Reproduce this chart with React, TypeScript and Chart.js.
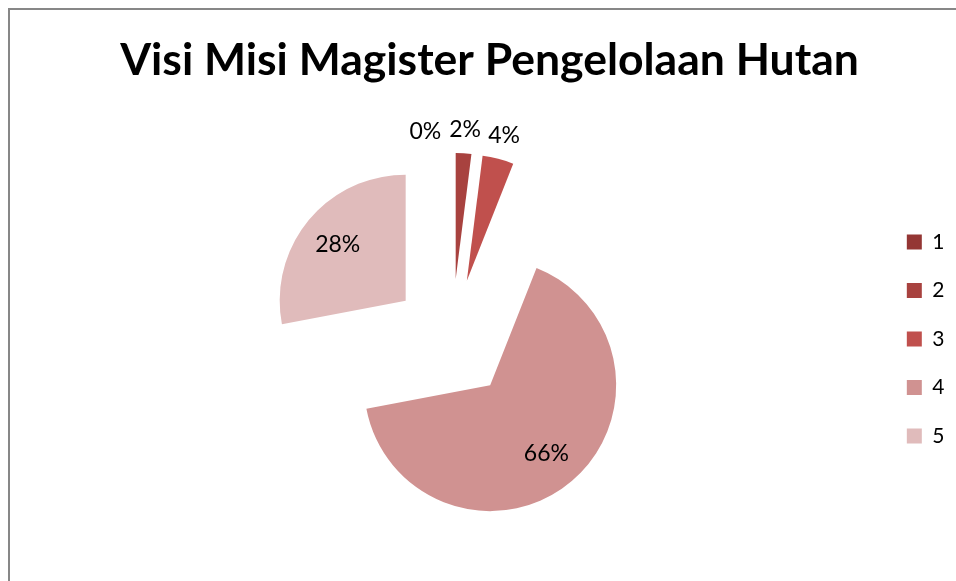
import React, { useEffect, useRef } from 'react';
import { Chart, registerables, ArcElement, PieController } from 'chart.js';

const categories = ['1', '2', '3', '4', '5'];
const values = [0, 2, 4, 66, 28];
const sliceColors = ['#943634', '#a8423f', '#c0504d', '#d09291', '#e0bbbb'];
const explodeOffsets = [60, 60, 60, 60, 60];
const titleText = 'Visi Misi Magister Pengelolaan Hutan';

class ExplodedArc extends ArcElement {
  static id = 'explodedArc';
  draw(ctx: CanvasRenderingContext2D) {
    const self = this as any;
    const { x, y, startAngle, endAngle, outerRadius } = self;
    const opts = self.options;
    if (!(endAngle - startAngle > 0)) return;
    const mid = (startAngle + endAngle) / 2;
    const off = opts.offset || 0;
    ctx.save();
    ctx.translate(Math.cos(mid) * off, Math.sin(mid) * off);
    ctx.beginPath();
    ctx.moveTo(x, y);
    ctx.arc(x, y, outerRadius, startAngle, endAngle);
    ctx.closePath();
    ctx.fillStyle = opts.backgroundColor;
    ctx.fill();
    ctx.restore();
  }
}

class ExplodedPieController extends PieController {
  static id = 'explodedPie';
  static defaults = { dataElementType: 'explodedArc' };
}

Chart.register(...registerables, ExplodedArc, ExplodedPieController);

const labelPlugin = {
  id: 'sliceLabels',
  afterDatasetsDraw(chart: any) {
    const meta = chart.getDatasetMeta(0);
    const ctx = chart.ctx as CanvasRenderingContext2D;
    const total = values.reduce((a, b) => a + b, 0);
    ctx.save();
    ctx.font = '23px Lato';
    ctx.fillStyle = '#000000';
    ctx.textAlign = 'center';
    ctx.textBaseline = 'middle';
    const items = meta.data.map((el: any, i: number) => {
      const { x, y, startAngle, endAngle, outerRadius } = el.getProps(
        ['x', 'y', 'startAngle', 'endAngle', 'outerRadius'],
        true
      );
      const off = el.options.offset || 0;
      const mid = (startAngle + endAngle) / 2;
      const vx = x + Math.cos(mid) * off;
      const vy = y + Math.sin(mid) * off;
      const pct = Math.round((values[i] / total) * 100);
      const text = pct + '%';
      const inside = pct >= 10;
      const dist = inside ? outerRadius * 0.7 : outerRadius + 24;
      return {
        text,
        x: vx + Math.cos(mid) * dist,
        y: vy + Math.sin(mid) * dist,
        w: ctx.measureText(text).width,
      };
    });
    for (let i = items.length - 2; i >= 0; i--) {
      const a = items[i];
      const b = items[i + 1];
      if (Math.abs(a.y - b.y) < 20 && a.x + a.w / 2 + 5 > b.x - b.w / 2) {
        a.x = b.x - b.w / 2 - 8 - a.w / 2;
        a.y += 3;
      }
    }
    items.forEach((it: any) => ctx.fillText(it.text, it.x, it.y));
    ctx.restore();
  },
};

export default function App() {
  const ref = useRef<HTMLCanvasElement | null>(null);
  useEffect(() => {
    document.body.style.overflow = 'hidden';
    const canvas = ref.current;
    if (!canvas) return;
    const chart = new Chart(canvas, {
      type: 'explodedPie' as any,
      data: {
        labels: categories,
        datasets: [
          {
            data: values,
            backgroundColor: sliceColors,
            offset: explodeOffsets,
            borderWidth: 0,
            radius: 126,
            clip: false,
          } as any,
        ],
      },
      options: {
        responsive: false,
        animation: false,
        devicePixelRatio: 1,
        events: [],
        layout: { padding: { left: 24.5, right: 1.5, top: 0, bottom: 20 } },
        plugins: {
          title: {
            display: true,
            text: titleText,
            color: '#000000',
            font: { family: 'Lato', size: 44.5, weight: 'bold', lineHeight: 1.2 },
            padding: { top: 34.4, bottom: 29 },
          },
          legend: {
            display: true,
            position: 'right',
            fullSize: false,
            labels: {
              color: '#000000',
              font: { family: 'Lato', size: 21 },
              boxWidth: 15,
              boxHeight: 15,
              padding: 27.5,
            },
          },
          tooltip: { enabled: false },
        },
      } as any,
      plugins: [labelPlugin],
    });
    return () => chart.destroy();
  }, []);
  return (
    <div
      style={{
        position: 'fixed',
        left: 0,
        top: 0,
        width: 956,
        height: 581,
        overflow: 'hidden',
        background: '#ffffff',
      }}
    >
      <div
        style={{
          position: 'absolute',
          left: 8,
          top: 8,
          width: 1000,
          height: 700,
          border: '2px solid #878787',
        }}
      />
      <canvas
        ref={ref}
        width={956}
        height={581}
        style={{ position: 'absolute', left: 0, top: 0, width: 956, height: 581 }}
      />
    </div>
  );
}
